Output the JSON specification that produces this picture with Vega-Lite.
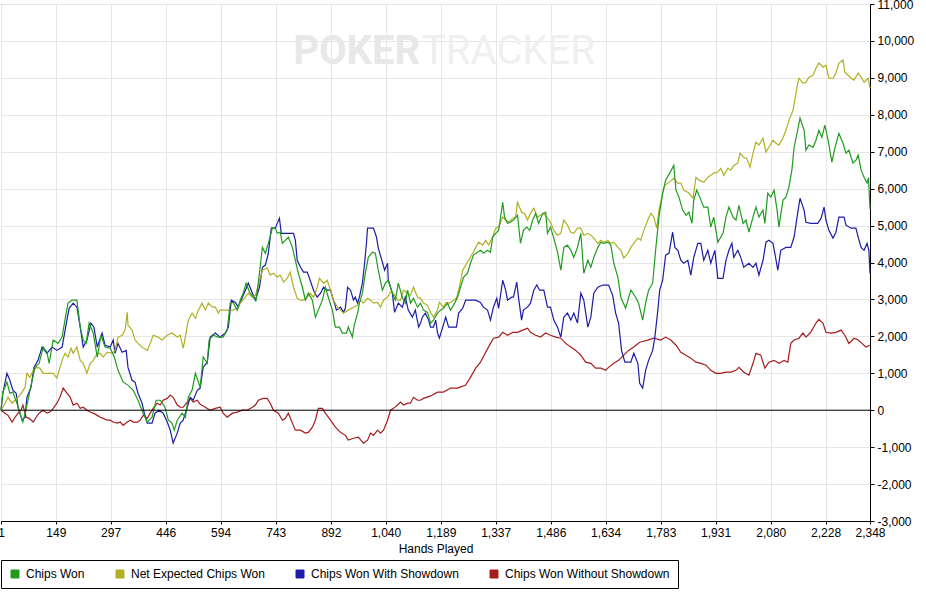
{
  "$schema": "https://vega.github.io/schema/vega-lite/v6.json",
  "width": 869,
  "height": 517,
  "autosize": {"type": "none"},
  "padding": {"left": 1, "top": 4, "right": 56, "bottom": 77},
  "background": "white",
  "config": {
    "font": "Liberation Sans",
    "view": {"stroke": "black", "strokeWidth": 1},
    "axis": {
      "labelFont": "Liberation Sans",
      "titleFont": "Liberation Sans",
      "labelFontSize": 12,
      "titleFontSize": 12,
      "titleFontWeight": "normal",
      "labelColor": "black",
      "titleColor": "black",
      "domainColor": "black",
      "tickColor": "black",
      "gridColor": "#e6e6e6",
      "gridWidth": 1,
      "labelOverlap": false
    },
    "legend": {
      "labelFont": "Liberation Sans",
      "labelFontSize": 12,
      "labelColor": "black"
    }
  },
  "layer": [
    {
      "data": {"values": [
{"series":"Chips Won Without Showdown","hand":1,"chips":0},{"series":"Chips Won Without Showdown","hand":12,"chips":-80},{"series":"Chips Won Without Showdown","hand":20,"chips":-140},{"series":"Chips Won Without Showdown","hand":31,"chips":-320},{"series":"Chips Won Without Showdown","hand":39,"chips":-190},{"series":"Chips Won Without Showdown","hand":47,"chips":-80},{"series":"Chips Won Without Showdown","hand":55,"chips":0},{"series":"Chips Won Without Showdown","hand":60,"chips":140},{"series":"Chips Won Without Showdown","hand":69,"chips":-190},{"series":"Chips Won Without Showdown","hand":77,"chips":-220},{"series":"Chips Won Without Showdown","hand":88,"chips":-320},{"series":"Chips Won Without Showdown","hand":96,"chips":-190},{"series":"Chips Won Without Showdown","hand":104,"chips":-80},{"series":"Chips Won Without Showdown","hand":115,"chips":0},{"series":"Chips Won Without Showdown","hand":125,"chips":-80},{"series":"Chips Won Without Showdown","hand":133,"chips":-50},{"series":"Chips Won Without Showdown","hand":142,"chips":50},{"series":"Chips Won Without Showdown","hand":152,"chips":190},{"series":"Chips Won Without Showdown","hand":160,"chips":350},{"series":"Chips Won Without Showdown","hand":169,"chips":600},{"series":"Chips Won Without Showdown","hand":177,"chips":490},{"series":"Chips Won Without Showdown","hand":188,"chips":350},{"series":"Chips Won Without Showdown","hand":196,"chips":140},{"series":"Chips Won Without Showdown","hand":206,"chips":190},{"series":"Chips Won Without Showdown","hand":215,"chips":50},{"series":"Chips Won Without Showdown","hand":223,"chips":80},{"series":"Chips Won Without Showdown","hand":233,"chips":0},{"series":"Chips Won Without Showdown","hand":242,"chips":-50},{"series":"Chips Won Without Showdown","hand":250,"chips":-80},{"series":"Chips Won Without Showdown","hand":261,"chips":-140},{"series":"Chips Won Without Showdown","hand":269,"chips":-190},{"series":"Chips Won Without Showdown","hand":277,"chips":-220},{"series":"Chips Won Without Showdown","hand":288,"chips":-270},{"series":"Chips Won Without Showdown","hand":296,"chips":-270},{"series":"Chips Won Without Showdown","hand":304,"chips":-320},{"series":"Chips Won Without Showdown","hand":315,"chips":-350},{"series":"Chips Won Without Showdown","hand":323,"chips":-320},{"series":"Chips Won Without Showdown","hand":331,"chips":-410},{"series":"Chips Won Without Showdown","hand":342,"chips":-320},{"series":"Chips Won Without Showdown","hand":350,"chips":-270},{"series":"Chips Won Without Showdown","hand":358,"chips":-320},{"series":"Chips Won Without Showdown","hand":369,"chips":-320},{"series":"Chips Won Without Showdown","hand":377,"chips":-270},{"series":"Chips Won Without Showdown","hand":385,"chips":-140},{"series":"Chips Won Without Showdown","hand":396,"chips":-220},{"series":"Chips Won Without Showdown","hand":404,"chips":-80},{"series":"Chips Won Without Showdown","hand":412,"chips":50},{"series":"Chips Won Without Showdown","hand":423,"chips":190},{"series":"Chips Won Without Showdown","hand":431,"chips":140},{"series":"Chips Won Without Showdown","hand":439,"chips":270},{"series":"Chips Won Without Showdown","hand":450,"chips":320},{"series":"Chips Won Without Showdown","hand":458,"chips":410},{"series":"Chips Won Without Showdown","hand":466,"chips":350},{"series":"Chips Won Without Showdown","hand":477,"chips":140},{"series":"Chips Won Without Showdown","hand":485,"chips":80},{"series":"Chips Won Without Showdown","hand":493,"chips":80},{"series":"Chips Won Without Showdown","hand":504,"chips":220},{"series":"Chips Won Without Showdown","hand":512,"chips":320},{"series":"Chips Won Without Showdown","hand":520,"chips":220},{"series":"Chips Won Without Showdown","hand":531,"chips":270},{"series":"Chips Won Without Showdown","hand":539,"chips":160},{"series":"Chips Won Without Showdown","hand":553,"chips":80},{"series":"Chips Won Without Showdown","hand":566,"chips":0},{"series":"Chips Won Without Showdown","hand":580,"chips":50},{"series":"Chips Won Without Showdown","hand":593,"chips":80},{"series":"Chips Won Without Showdown","hand":601,"chips":-80},{"series":"Chips Won Without Showdown","hand":612,"chips":-190},{"series":"Chips Won Without Showdown","hand":626,"chips":-80},{"series":"Chips Won Without Showdown","hand":639,"chips":-50},{"series":"Chips Won Without Showdown","hand":653,"chips":0},{"series":"Chips Won Without Showdown","hand":666,"chips":0},{"series":"Chips Won Without Showdown","hand":680,"chips":80},{"series":"Chips Won Without Showdown","hand":688,"chips":140},{"series":"Chips Won Without Showdown","hand":696,"chips":270},{"series":"Chips Won Without Showdown","hand":709,"chips":320},{"series":"Chips Won Without Showdown","hand":720,"chips":320},{"series":"Chips Won Without Showdown","hand":728,"chips":190},{"series":"Chips Won Without Showdown","hand":737,"chips":0},{"series":"Chips Won Without Showdown","hand":750,"chips":-80},{"series":"Chips Won Without Showdown","hand":761,"chips":-270},{"series":"Chips Won Without Showdown","hand":769,"chips":-220},{"series":"Chips Won Without Showdown","hand":777,"chips":-80},{"series":"Chips Won Without Showdown","hand":788,"chips":-350},{"series":"Chips Won Without Showdown","hand":796,"chips":-540},{"series":"Chips Won Without Showdown","hand":810,"chips":-540},{"series":"Chips Won Without Showdown","hand":823,"chips":-620},{"series":"Chips Won Without Showdown","hand":831,"chips":-600},{"series":"Chips Won Without Showdown","hand":842,"chips":-460},{"series":"Chips Won Without Showdown","hand":850,"chips":-270},{"series":"Chips Won Without Showdown","hand":858,"chips":50},{"series":"Chips Won Without Showdown","hand":869,"chips":50},{"series":"Chips Won Without Showdown","hand":877,"chips":-80},{"series":"Chips Won Without Showdown","hand":891,"chips":-270},{"series":"Chips Won Without Showdown","hand":904,"chips":-460},{"series":"Chips Won Without Showdown","hand":918,"chips":-600},{"series":"Chips Won Without Showdown","hand":931,"chips":-680},{"series":"Chips Won Without Showdown","hand":939,"chips":-810},{"series":"Chips Won Without Showdown","hand":953,"chips":-760},{"series":"Chips Won Without Showdown","hand":966,"chips":-730},{"series":"Chips Won Without Showdown","hand":980,"chips":-890},{"series":"Chips Won Without Showdown","hand":991,"chips":-810},{"series":"Chips Won Without Showdown","hand":999,"chips":-620},{"series":"Chips Won Without Showdown","hand":1007,"chips":-680},{"series":"Chips Won Without Showdown","hand":1018,"chips":-540},{"series":"Chips Won Without Showdown","hand":1026,"chips":-620},{"series":"Chips Won Without Showdown","hand":1034,"chips":-540},{"series":"Chips Won Without Showdown","hand":1045,"chips":-270},{"series":"Chips Won Without Showdown","hand":1053,"chips":0},{"series":"Chips Won Without Showdown","hand":1061,"chips":50},{"series":"Chips Won Without Showdown","hand":1072,"chips":140},{"series":"Chips Won Without Showdown","hand":1080,"chips":220},{"series":"Chips Won Without Showdown","hand":1088,"chips":140},{"series":"Chips Won Without Showdown","hand":1099,"chips":190},{"series":"Chips Won Without Showdown","hand":1107,"chips":190},{"series":"Chips Won Without Showdown","hand":1115,"chips":350},{"series":"Chips Won Without Showdown","hand":1126,"chips":270},{"series":"Chips Won Without Showdown","hand":1134,"chips":270},{"series":"Chips Won Without Showdown","hand":1142,"chips":320},{"series":"Chips Won Without Showdown","hand":1160,"chips":380},{"series":"Chips Won Without Showdown","hand":1180,"chips":490},{"series":"Chips Won Without Showdown","hand":1196,"chips":490},{"series":"Chips Won Without Showdown","hand":1215,"chips":600},{"series":"Chips Won Without Showdown","hand":1234,"chips":600},{"series":"Chips Won Without Showdown","hand":1256,"chips":680},{"series":"Chips Won Without Showdown","hand":1269,"chips":890},{"series":"Chips Won Without Showdown","hand":1283,"chips":1140},{"series":"Chips Won Without Showdown","hand":1296,"chips":1300},{"series":"Chips Won Without Showdown","hand":1310,"chips":1570},{"series":"Chips Won Without Showdown","hand":1323,"chips":1810},{"series":"Chips Won Without Showdown","hand":1331,"chips":1950},{"series":"Chips Won Without Showdown","hand":1345,"chips":1980},{"series":"Chips Won Without Showdown","hand":1356,"chips":2110},{"series":"Chips Won Without Showdown","hand":1369,"chips":2030},{"series":"Chips Won Without Showdown","hand":1383,"chips":2110},{"series":"Chips Won Without Showdown","hand":1396,"chips":2110},{"series":"Chips Won Without Showdown","hand":1410,"chips":2170},{"series":"Chips Won Without Showdown","hand":1423,"chips":2220},{"series":"Chips Won Without Showdown","hand":1431,"chips":2110},{"series":"Chips Won Without Showdown","hand":1445,"chips":2030},{"series":"Chips Won Without Showdown","hand":1458,"chips":1980},{"series":"Chips Won Without Showdown","hand":1472,"chips":2090},{"series":"Chips Won Without Showdown","hand":1485,"chips":2030},{"series":"Chips Won Without Showdown","hand":1499,"chips":1980},{"series":"Chips Won Without Showdown","hand":1513,"chips":1950},{"series":"Chips Won Without Showdown","hand":1526,"chips":1810},{"series":"Chips Won Without Showdown","hand":1540,"chips":1710},{"series":"Chips Won Without Showdown","hand":1553,"chips":1620},{"series":"Chips Won Without Showdown","hand":1567,"chips":1490},{"series":"Chips Won Without Showdown","hand":1580,"chips":1300},{"series":"Chips Won Without Showdown","hand":1594,"chips":1270},{"series":"Chips Won Without Showdown","hand":1607,"chips":1140},{"series":"Chips Won Without Showdown","hand":1621,"chips":1140},{"series":"Chips Won Without Showdown","hand":1634,"chips":1080},{"series":"Chips Won Without Showdown","hand":1642,"chips":1160},{"series":"Chips Won Without Showdown","hand":1656,"chips":1270},{"series":"Chips Won Without Showdown","hand":1669,"chips":1350},{"series":"Chips Won Without Showdown","hand":1683,"chips":1490},{"series":"Chips Won Without Showdown","hand":1696,"chips":1620},{"series":"Chips Won Without Showdown","hand":1710,"chips":1710},{"series":"Chips Won Without Showdown","hand":1726,"chips":1840},{"series":"Chips Won Without Showdown","hand":1748,"chips":1900},{"series":"Chips Won Without Showdown","hand":1764,"chips":1950},{"series":"Chips Won Without Showdown","hand":1783,"chips":1900},{"series":"Chips Won Without Showdown","hand":1796,"chips":1980},{"series":"Chips Won Without Showdown","hand":1810,"chips":1900},{"series":"Chips Won Without Showdown","hand":1824,"chips":1760},{"series":"Chips Won Without Showdown","hand":1837,"chips":1570},{"series":"Chips Won Without Showdown","hand":1851,"chips":1490},{"series":"Chips Won Without Showdown","hand":1864,"chips":1410},{"series":"Chips Won Without Showdown","hand":1878,"chips":1300},{"series":"Chips Won Without Showdown","hand":1891,"chips":1270},{"series":"Chips Won Without Showdown","hand":1905,"chips":1220},{"series":"Chips Won Without Showdown","hand":1918,"chips":1080},{"series":"Chips Won Without Showdown","hand":1932,"chips":1000},{"series":"Chips Won Without Showdown","hand":1945,"chips":1000},{"series":"Chips Won Without Showdown","hand":1959,"chips":1030},{"series":"Chips Won Without Showdown","hand":1972,"chips":1030},{"series":"Chips Won Without Showdown","hand":1986,"chips":1080},{"series":"Chips Won Without Showdown","hand":1994,"chips":1160},{"series":"Chips Won Without Showdown","hand":2007,"chips":1030},{"series":"Chips Won Without Showdown","hand":2021,"chips":950},{"series":"Chips Won Without Showdown","hand":2032,"chips":1270},{"series":"Chips Won Without Showdown","hand":2040,"chips":1540},{"series":"Chips Won Without Showdown","hand":2053,"chips":1490},{"series":"Chips Won Without Showdown","hand":2064,"chips":1140},{"series":"Chips Won Without Showdown","hand":2075,"chips":1300},{"series":"Chips Won Without Showdown","hand":2089,"chips":1350},{"series":"Chips Won Without Showdown","hand":2102,"chips":1270},{"series":"Chips Won Without Showdown","hand":2116,"chips":1350},{"series":"Chips Won Without Showdown","hand":2126,"chips":1300},{"series":"Chips Won Without Showdown","hand":2134,"chips":1810},{"series":"Chips Won Without Showdown","hand":2143,"chips":1900},{"series":"Chips Won Without Showdown","hand":2156,"chips":1950},{"series":"Chips Won Without Showdown","hand":2167,"chips":2090},{"series":"Chips Won Without Showdown","hand":2175,"chips":1980},{"series":"Chips Won Without Showdown","hand":2188,"chips":2110},{"series":"Chips Won Without Showdown","hand":2202,"chips":2360},{"series":"Chips Won Without Showdown","hand":2210,"chips":2460},{"series":"Chips Won Without Showdown","hand":2221,"chips":2360},{"series":"Chips Won Without Showdown","hand":2229,"chips":2110},{"series":"Chips Won Without Showdown","hand":2243,"chips":2090},{"series":"Chips Won Without Showdown","hand":2256,"chips":2110},{"series":"Chips Won Without Showdown","hand":2270,"chips":2170},{"series":"Chips Won Without Showdown","hand":2280,"chips":2030},{"series":"Chips Won Without Showdown","hand":2291,"chips":1810},{"series":"Chips Won Without Showdown","hand":2305,"chips":1950},{"series":"Chips Won Without Showdown","hand":2316,"chips":1900},{"series":"Chips Won Without Showdown","hand":2326,"chips":1810},{"series":"Chips Won Without Showdown","hand":2337,"chips":1710},{"series":"Chips Won Without Showdown","hand":2348,"chips":1760},
{"series":"Chips Won With Showdown","hand":1,"chips":0},{"series":"Chips Won With Showdown","hand":6,"chips":460},{"series":"Chips Won With Showdown","hand":17,"chips":1000},{"series":"Chips Won With Showdown","hand":25,"chips":810},{"series":"Chips Won With Showdown","hand":33,"chips":540},{"series":"Chips Won With Showdown","hand":42,"chips":460},{"series":"Chips Won With Showdown","hand":47,"chips":80},{"series":"Chips Won With Showdown","hand":58,"chips":-270},{"series":"Chips Won With Showdown","hand":66,"chips":-190},{"series":"Chips Won With Showdown","hand":71,"chips":350},{"series":"Chips Won With Showdown","hand":82,"chips":620},{"series":"Chips Won With Showdown","hand":90,"chips":1160},{"series":"Chips Won With Showdown","hand":101,"chips":1350},{"series":"Chips Won With Showdown","hand":112,"chips":1710},{"series":"Chips Won With Showdown","hand":125,"chips":1540},{"series":"Chips Won With Showdown","hand":139,"chips":1710},{"series":"Chips Won With Showdown","hand":152,"chips":1620},{"series":"Chips Won With Showdown","hand":166,"chips":1710},{"series":"Chips Won With Showdown","hand":179,"chips":2440},{"series":"Chips Won With Showdown","hand":185,"chips":2760},{"series":"Chips Won With Showdown","hand":196,"chips":2900},{"series":"Chips Won With Showdown","hand":206,"chips":2790},{"series":"Chips Won With Showdown","hand":215,"chips":2250},{"series":"Chips Won With Showdown","hand":223,"chips":1710},{"series":"Chips Won With Showdown","hand":233,"chips":1900},{"series":"Chips Won With Showdown","hand":244,"chips":2360},{"series":"Chips Won With Showdown","hand":252,"chips":2250},{"series":"Chips Won With Showdown","hand":261,"chips":1710},{"series":"Chips Won With Showdown","hand":274,"chips":2090},{"series":"Chips Won With Showdown","hand":282,"chips":1760},{"series":"Chips Won With Showdown","hand":296,"chips":1710},{"series":"Chips Won With Showdown","hand":304,"chips":1900},{"series":"Chips Won With Showdown","hand":309,"chips":1540},{"series":"Chips Won With Showdown","hand":317,"chips":1810},{"series":"Chips Won With Showdown","hand":328,"chips":1570},{"series":"Chips Won With Showdown","hand":339,"chips":1620},{"series":"Chips Won With Showdown","hand":344,"chips":1160},{"series":"Chips Won With Showdown","hand":355,"chips":810},{"series":"Chips Won With Showdown","hand":363,"chips":760},{"series":"Chips Won With Showdown","hand":371,"chips":460},{"series":"Chips Won With Showdown","hand":382,"chips":190},{"series":"Chips Won With Showdown","hand":388,"chips":-80},{"series":"Chips Won With Showdown","hand":396,"chips":-350},{"series":"Chips Won With Showdown","hand":409,"chips":-350},{"series":"Chips Won With Showdown","hand":417,"chips":-80},{"series":"Chips Won With Showdown","hand":428,"chips":0},{"series":"Chips Won With Showdown","hand":439,"chips":-80},{"series":"Chips Won With Showdown","hand":450,"chips":-320},{"series":"Chips Won With Showdown","hand":458,"chips":-540},{"series":"Chips Won With Showdown","hand":466,"chips":-890},{"series":"Chips Won With Showdown","hand":477,"chips":-620},{"series":"Chips Won With Showdown","hand":485,"chips":-350},{"series":"Chips Won With Showdown","hand":493,"chips":-270},{"series":"Chips Won With Showdown","hand":504,"chips":80},{"series":"Chips Won With Showdown","hand":512,"chips":350},{"series":"Chips Won With Showdown","hand":520,"chips":270},{"series":"Chips Won With Showdown","hand":531,"chips":540},{"series":"Chips Won With Showdown","hand":539,"chips":600},{"series":"Chips Won With Showdown","hand":547,"chips":1160},{"series":"Chips Won With Showdown","hand":558,"chips":1300},{"series":"Chips Won With Showdown","hand":566,"chips":1980},{"series":"Chips Won With Showdown","hand":580,"chips":2090},{"series":"Chips Won With Showdown","hand":593,"chips":1980},{"series":"Chips Won With Showdown","hand":607,"chips":2090},{"series":"Chips Won With Showdown","hand":615,"chips":2250},{"series":"Chips Won With Showdown","hand":623,"chips":2980},{"series":"Chips Won With Showdown","hand":634,"chips":2920},{"series":"Chips Won With Showdown","hand":642,"chips":2790},{"series":"Chips Won With Showdown","hand":653,"chips":3060},{"series":"Chips Won With Showdown","hand":661,"chips":3250},{"series":"Chips Won With Showdown","hand":669,"chips":3440},{"series":"Chips Won With Showdown","hand":680,"chips":3170},{"series":"Chips Won With Showdown","hand":688,"chips":2980},{"series":"Chips Won With Showdown","hand":699,"chips":3330},{"series":"Chips Won With Showdown","hand":707,"chips":3870},{"series":"Chips Won With Showdown","hand":715,"chips":3930},{"series":"Chips Won With Showdown","hand":723,"chips":4250},{"series":"Chips Won With Showdown","hand":731,"chips":4930},{"series":"Chips Won With Showdown","hand":742,"chips":4930},{"series":"Chips Won With Showdown","hand":747,"chips":5060},{"series":"Chips Won With Showdown","hand":753,"chips":5200},{"series":"Chips Won With Showdown","hand":758,"chips":4790},{"series":"Chips Won With Showdown","hand":769,"chips":4790},{"series":"Chips Won With Showdown","hand":782,"chips":4790},{"series":"Chips Won With Showdown","hand":791,"chips":4790},{"series":"Chips Won With Showdown","hand":796,"chips":4600},{"series":"Chips Won With Showdown","hand":801,"chips":4060},{"series":"Chips Won With Showdown","hand":810,"chips":3870},{"series":"Chips Won With Showdown","hand":818,"chips":3740},{"series":"Chips Won With Showdown","hand":828,"chips":3740},{"series":"Chips Won With Showdown","hand":836,"chips":3520},{"series":"Chips Won With Showdown","hand":845,"chips":3250},{"series":"Chips Won With Showdown","hand":855,"chips":3060},{"series":"Chips Won With Showdown","hand":864,"chips":3170},{"series":"Chips Won With Showdown","hand":872,"chips":3330},{"series":"Chips Won With Showdown","hand":882,"chips":3250},{"series":"Chips Won With Showdown","hand":891,"chips":3250},{"series":"Chips Won With Showdown","hand":899,"chips":2980},{"series":"Chips Won With Showdown","hand":907,"chips":2710},{"series":"Chips Won With Showdown","hand":918,"chips":2790},{"series":"Chips Won With Showdown","hand":926,"chips":2650},{"series":"Chips Won With Showdown","hand":931,"chips":2760},{"series":"Chips Won With Showdown","hand":937,"chips":3330},{"series":"Chips Won With Showdown","hand":945,"chips":3250},{"series":"Chips Won With Showdown","hand":953,"chips":2980},{"series":"Chips Won With Showdown","hand":958,"chips":3060},{"series":"Chips Won With Showdown","hand":964,"chips":2900},{"series":"Chips Won With Showdown","hand":969,"chips":3060},{"series":"Chips Won With Showdown","hand":977,"chips":3440},{"series":"Chips Won With Showdown","hand":983,"chips":3980},{"series":"Chips Won With Showdown","hand":988,"chips":4520},{"series":"Chips Won With Showdown","hand":991,"chips":4930},{"series":"Chips Won With Showdown","hand":1007,"chips":4930},{"series":"Chips Won With Showdown","hand":1015,"chips":4690},{"series":"Chips Won With Showdown","hand":1020,"chips":4390},{"series":"Chips Won With Showdown","hand":1031,"chips":4010},{"series":"Chips Won With Showdown","hand":1037,"chips":3790},{"series":"Chips Won With Showdown","hand":1045,"chips":3980},{"series":"Chips Won With Showdown","hand":1047,"chips":3520},{"series":"Chips Won With Showdown","hand":1058,"chips":3170},{"series":"Chips Won With Showdown","hand":1064,"chips":2650},{"series":"Chips Won With Showdown","hand":1074,"chips":2900},{"series":"Chips Won With Showdown","hand":1085,"chips":2790},{"series":"Chips Won With Showdown","hand":1093,"chips":3060},{"series":"Chips Won With Showdown","hand":1101,"chips":2710},{"series":"Chips Won With Showdown","hand":1112,"chips":2520},{"series":"Chips Won With Showdown","hand":1120,"chips":2710},{"series":"Chips Won With Showdown","hand":1129,"chips":2250},{"series":"Chips Won With Showdown","hand":1134,"chips":2360},{"series":"Chips Won With Showdown","hand":1139,"chips":2520},{"series":"Chips Won With Showdown","hand":1147,"chips":2630},{"series":"Chips Won With Showdown","hand":1156,"chips":2440},{"series":"Chips Won With Showdown","hand":1161,"chips":2250},{"series":"Chips Won With Showdown","hand":1169,"chips":2250},{"series":"Chips Won With Showdown","hand":1175,"chips":2440},{"series":"Chips Won With Showdown","hand":1180,"chips":2090},{"series":"Chips Won With Showdown","hand":1185,"chips":1950},{"series":"Chips Won With Showdown","hand":1194,"chips":2250},{"series":"Chips Won With Showdown","hand":1202,"chips":2520},{"series":"Chips Won With Showdown","hand":1210,"chips":2250},{"series":"Chips Won With Showdown","hand":1221,"chips":2250},{"series":"Chips Won With Showdown","hand":1231,"chips":2250},{"series":"Chips Won With Showdown","hand":1237,"chips":2630},{"series":"Chips Won With Showdown","hand":1248,"chips":2760},{"series":"Chips Won With Showdown","hand":1256,"chips":2980},{"series":"Chips Won With Showdown","hand":1264,"chips":2980},{"series":"Chips Won With Showdown","hand":1275,"chips":2980},{"series":"Chips Won With Showdown","hand":1283,"chips":2980},{"series":"Chips Won With Showdown","hand":1296,"chips":2920},{"series":"Chips Won With Showdown","hand":1304,"chips":2790},{"series":"Chips Won With Showdown","hand":1315,"chips":2710},{"series":"Chips Won With Showdown","hand":1323,"chips":2440},{"series":"Chips Won With Showdown","hand":1331,"chips":2790},{"series":"Chips Won With Showdown","hand":1340,"chips":3030},{"series":"Chips Won With Showdown","hand":1345,"chips":2760},{"series":"Chips Won With Showdown","hand":1356,"chips":3520},{"series":"Chips Won With Showdown","hand":1364,"chips":3250},{"series":"Chips Won With Showdown","hand":1369,"chips":2980},{"series":"Chips Won With Showdown","hand":1380,"chips":3060},{"series":"Chips Won With Showdown","hand":1385,"chips":3060},{"series":"Chips Won With Showdown","hand":1394,"chips":3470},{"series":"Chips Won With Showdown","hand":1399,"chips":3030},{"series":"Chips Won With Showdown","hand":1407,"chips":2440},{"series":"Chips Won With Showdown","hand":1412,"chips":2710},{"series":"Chips Won With Showdown","hand":1423,"chips":2790},{"series":"Chips Won With Showdown","hand":1431,"chips":2900},{"series":"Chips Won With Showdown","hand":1440,"chips":3250},{"series":"Chips Won With Showdown","hand":1448,"chips":3390},{"series":"Chips Won With Showdown","hand":1456,"chips":3250},{"series":"Chips Won With Showdown","hand":1467,"chips":3250},{"series":"Chips Won With Showdown","hand":1477,"chips":2790},{"series":"Chips Won With Showdown","hand":1485,"chips":2790},{"series":"Chips Won With Showdown","hand":1494,"chips":2440},{"series":"Chips Won With Showdown","hand":1504,"chips":2250},{"series":"Chips Won With Showdown","hand":1513,"chips":1980},{"series":"Chips Won With Showdown","hand":1521,"chips":2520},{"series":"Chips Won With Showdown","hand":1531,"chips":2630},{"series":"Chips Won With Showdown","hand":1540,"chips":2440},{"series":"Chips Won With Showdown","hand":1548,"chips":2630},{"series":"Chips Won With Showdown","hand":1558,"chips":2360},{"series":"Chips Won With Showdown","hand":1567,"chips":3170},{"series":"Chips Won With Showdown","hand":1575,"chips":2980},{"series":"Chips Won With Showdown","hand":1586,"chips":2250},{"series":"Chips Won With Showdown","hand":1594,"chips":2520},{"series":"Chips Won With Showdown","hand":1602,"chips":3170},{"series":"Chips Won With Showdown","hand":1613,"chips":3330},{"series":"Chips Won With Showdown","hand":1626,"chips":3390},{"series":"Chips Won With Showdown","hand":1642,"chips":3390},{"series":"Chips Won With Showdown","hand":1653,"chips":3110},{"series":"Chips Won With Showdown","hand":1661,"chips":2630},{"series":"Chips Won With Showdown","hand":1669,"chips":2360},{"series":"Chips Won With Showdown","hand":1677,"chips":1620},{"series":"Chips Won With Showdown","hand":1686,"chips":1300},{"series":"Chips Won With Showdown","hand":1702,"chips":1300},{"series":"Chips Won With Showdown","hand":1710,"chips":1540},{"series":"Chips Won With Showdown","hand":1721,"chips":1270},{"series":"Chips Won With Showdown","hand":1726,"chips":730},{"series":"Chips Won With Showdown","hand":1734,"chips":600},{"series":"Chips Won With Showdown","hand":1742,"chips":1080},{"series":"Chips Won With Showdown","hand":1750,"chips":1350},{"series":"Chips Won With Showdown","hand":1761,"chips":1620},{"series":"Chips Won With Showdown","hand":1767,"chips":1980},{"series":"Chips Won With Showdown","hand":1775,"chips":2710},{"series":"Chips Won With Showdown","hand":1780,"chips":3250},{"series":"Chips Won With Showdown","hand":1788,"chips":3520},{"series":"Chips Won With Showdown","hand":1796,"chips":4200},{"series":"Chips Won With Showdown","hand":1805,"chips":4250},{"series":"Chips Won With Showdown","hand":1815,"chips":4820},{"series":"Chips Won With Showdown","hand":1821,"chips":4410},{"series":"Chips Won With Showdown","hand":1829,"chips":4330},{"series":"Chips Won With Showdown","hand":1837,"chips":4060},{"series":"Chips Won With Showdown","hand":1845,"chips":3980},{"series":"Chips Won With Showdown","hand":1856,"chips":4060},{"series":"Chips Won With Showdown","hand":1864,"chips":3660},{"series":"Chips Won With Showdown","hand":1872,"chips":4140},{"series":"Chips Won With Showdown","hand":1883,"chips":4520},{"series":"Chips Won With Showdown","hand":1891,"chips":4520},{"series":"Chips Won With Showdown","hand":1899,"chips":4060},{"series":"Chips Won With Showdown","hand":1910,"chips":4330},{"series":"Chips Won With Showdown","hand":1918,"chips":3980},{"series":"Chips Won With Showdown","hand":1929,"chips":4330},{"series":"Chips Won With Showdown","hand":1937,"chips":3570},{"series":"Chips Won With Showdown","hand":1951,"chips":3570},{"series":"Chips Won With Showdown","hand":1959,"chips":4060},{"series":"Chips Won With Showdown","hand":1967,"chips":4330},{"series":"Chips Won With Showdown","hand":1975,"chips":4520},{"series":"Chips Won With Showdown","hand":1980,"chips":4140},{"series":"Chips Won With Showdown","hand":1991,"chips":4330},{"series":"Chips Won With Showdown","hand":1999,"chips":4140},{"series":"Chips Won With Showdown","hand":2007,"chips":3870},{"series":"Chips Won With Showdown","hand":2021,"chips":3980},{"series":"Chips Won With Showdown","hand":2032,"chips":3870},{"series":"Chips Won With Showdown","hand":2040,"chips":3980},{"series":"Chips Won With Showdown","hand":2048,"chips":3660},{"series":"Chips Won With Showdown","hand":2059,"chips":4060},{"series":"Chips Won With Showdown","hand":2067,"chips":4550},{"series":"Chips Won With Showdown","hand":2075,"chips":4600},{"series":"Chips Won With Showdown","hand":2086,"chips":4520},{"series":"Chips Won With Showdown","hand":2091,"chips":4250},{"series":"Chips Won With Showdown","hand":2099,"chips":3790},{"series":"Chips Won With Showdown","hand":2107,"chips":4330},{"series":"Chips Won With Showdown","hand":2121,"chips":4410},{"series":"Chips Won With Showdown","hand":2134,"chips":4410},{"series":"Chips Won With Showdown","hand":2143,"chips":4690},{"series":"Chips Won With Showdown","hand":2151,"chips":5230},{"series":"Chips Won With Showdown","hand":2159,"chips":5740},{"series":"Chips Won With Showdown","hand":2170,"chips":5420},{"series":"Chips Won With Showdown","hand":2175,"chips":5090},{"series":"Chips Won With Showdown","hand":2188,"chips":5060},{"series":"Chips Won With Showdown","hand":2207,"chips":5060},{"series":"Chips Won With Showdown","hand":2216,"chips":5200},{"series":"Chips Won With Showdown","hand":2224,"chips":5500},{"series":"Chips Won With Showdown","hand":2229,"chips":5150},{"series":"Chips Won With Showdown","hand":2237,"chips":4870},{"series":"Chips Won With Showdown","hand":2248,"chips":4660},{"series":"Chips Won With Showdown","hand":2256,"chips":4820},{"series":"Chips Won With Showdown","hand":2264,"chips":5230},{"series":"Chips Won With Showdown","hand":2278,"chips":5230},{"series":"Chips Won With Showdown","hand":2283,"chips":5010},{"series":"Chips Won With Showdown","hand":2297,"chips":4930},{"series":"Chips Won With Showdown","hand":2310,"chips":4930},{"series":"Chips Won With Showdown","hand":2316,"chips":4690},{"series":"Chips Won With Showdown","hand":2324,"chips":4410},{"series":"Chips Won With Showdown","hand":2332,"chips":4330},{"series":"Chips Won With Showdown","hand":2340,"chips":4520},{"series":"Chips Won With Showdown","hand":2345,"chips":4330},{"series":"Chips Won With Showdown","hand":2348,"chips":3710},
{"series":"Net Expected Chips Won","hand":1,"chips":0},{"series":"Net Expected Chips Won","hand":12,"chips":190},{"series":"Net Expected Chips Won","hand":20,"chips":350},{"series":"Net Expected Chips Won","hand":31,"chips":190},{"series":"Net Expected Chips Won","hand":39,"chips":270},{"series":"Net Expected Chips Won","hand":47,"chips":350},{"series":"Net Expected Chips Won","hand":58,"chips":490},{"series":"Net Expected Chips Won","hand":66,"chips":620},{"series":"Net Expected Chips Won","hand":71,"chips":1000},{"series":"Net Expected Chips Won","hand":79,"chips":890},{"series":"Net Expected Chips Won","hand":88,"chips":1080},{"series":"Net Expected Chips Won","hand":98,"chips":1160},{"series":"Net Expected Chips Won","hand":106,"chips":1140},{"series":"Net Expected Chips Won","hand":115,"chips":1000},{"series":"Net Expected Chips Won","hand":128,"chips":1000},{"series":"Net Expected Chips Won","hand":142,"chips":1000},{"series":"Net Expected Chips Won","hand":152,"chips":870},{"series":"Net Expected Chips Won","hand":158,"chips":1080},{"series":"Net Expected Chips Won","hand":166,"chips":1350},{"series":"Net Expected Chips Won","hand":174,"chips":1540},{"series":"Net Expected Chips Won","hand":182,"chips":1440},{"series":"Net Expected Chips Won","hand":190,"chips":1680},{"series":"Net Expected Chips Won","hand":196,"chips":1540},{"series":"Net Expected Chips Won","hand":206,"chips":1710},{"series":"Net Expected Chips Won","hand":215,"chips":1350},{"series":"Net Expected Chips Won","hand":223,"chips":1270},{"series":"Net Expected Chips Won","hand":233,"chips":1000},{"series":"Net Expected Chips Won","hand":242,"chips":1270},{"series":"Net Expected Chips Won","hand":250,"chips":1350},{"series":"Net Expected Chips Won","hand":261,"chips":1540},{"series":"Net Expected Chips Won","hand":269,"chips":1540},{"series":"Net Expected Chips Won","hand":277,"chips":1440},{"series":"Net Expected Chips Won","hand":288,"chips":1570},{"series":"Net Expected Chips Won","hand":301,"chips":1540},{"series":"Net Expected Chips Won","hand":309,"chips":1620},{"series":"Net Expected Chips Won","hand":317,"chips":1980},{"series":"Net Expected Chips Won","hand":328,"chips":2030},{"series":"Net Expected Chips Won","hand":336,"chips":2170},{"series":"Net Expected Chips Won","hand":342,"chips":2650},{"series":"Net Expected Chips Won","hand":344,"chips":2300},{"series":"Net Expected Chips Won","hand":355,"chips":2170},{"series":"Net Expected Chips Won","hand":363,"chips":1900},{"series":"Net Expected Chips Won","hand":371,"chips":1810},{"series":"Net Expected Chips Won","hand":382,"chips":1710},{"series":"Net Expected Chips Won","hand":396,"chips":1620},{"series":"Net Expected Chips Won","hand":404,"chips":1810},{"series":"Net Expected Chips Won","hand":412,"chips":2030},{"series":"Net Expected Chips Won","hand":425,"chips":1980},{"series":"Net Expected Chips Won","hand":436,"chips":1900},{"series":"Net Expected Chips Won","hand":450,"chips":2030},{"series":"Net Expected Chips Won","hand":463,"chips":2090},{"series":"Net Expected Chips Won","hand":477,"chips":1980},{"series":"Net Expected Chips Won","hand":485,"chips":2030},{"series":"Net Expected Chips Won","hand":493,"chips":1680},{"series":"Net Expected Chips Won","hand":499,"chips":1980},{"series":"Net Expected Chips Won","hand":507,"chips":2440},{"series":"Net Expected Chips Won","hand":517,"chips":2630},{"series":"Net Expected Chips Won","hand":526,"chips":2490},{"series":"Net Expected Chips Won","hand":534,"chips":2710},{"series":"Net Expected Chips Won","hand":544,"chips":2900},{"series":"Net Expected Chips Won","hand":553,"chips":2710},{"series":"Net Expected Chips Won","hand":561,"chips":2900},{"series":"Net Expected Chips Won","hand":572,"chips":2790},{"series":"Net Expected Chips Won","hand":580,"chips":2790},{"series":"Net Expected Chips Won","hand":588,"chips":2630},{"series":"Net Expected Chips Won","hand":593,"chips":2710},{"series":"Net Expected Chips Won","hand":601,"chips":2710},{"series":"Net Expected Chips Won","hand":612,"chips":2710},{"series":"Net Expected Chips Won","hand":626,"chips":2710},{"series":"Net Expected Chips Won","hand":639,"chips":2760},{"series":"Net Expected Chips Won","hand":647,"chips":2900},{"series":"Net Expected Chips Won","hand":661,"chips":3060},{"series":"Net Expected Chips Won","hand":669,"chips":3170},{"series":"Net Expected Chips Won","hand":680,"chips":3060},{"series":"Net Expected Chips Won","hand":688,"chips":3110},{"series":"Net Expected Chips Won","hand":696,"chips":3390},{"series":"Net Expected Chips Won","hand":707,"chips":3790},{"series":"Net Expected Chips Won","hand":720,"chips":3850},{"series":"Net Expected Chips Won","hand":728,"chips":3660},{"series":"Net Expected Chips Won","hand":737,"chips":3710},{"series":"Net Expected Chips Won","hand":747,"chips":3600},{"series":"Net Expected Chips Won","hand":755,"chips":3660},{"series":"Net Expected Chips Won","hand":764,"chips":3470},{"series":"Net Expected Chips Won","hand":774,"chips":3570},{"series":"Net Expected Chips Won","hand":782,"chips":3740},{"series":"Net Expected Chips Won","hand":791,"chips":3330},{"series":"Net Expected Chips Won","hand":801,"chips":3030},{"series":"Net Expected Chips Won","hand":810,"chips":2980},{"series":"Net Expected Chips Won","hand":818,"chips":2980},{"series":"Net Expected Chips Won","hand":828,"chips":3060},{"series":"Net Expected Chips Won","hand":836,"chips":3170},{"series":"Net Expected Chips Won","hand":845,"chips":3060},{"series":"Net Expected Chips Won","hand":855,"chips":3330},{"series":"Net Expected Chips Won","hand":861,"chips":3570},{"series":"Net Expected Chips Won","hand":872,"chips":3440},{"series":"Net Expected Chips Won","hand":882,"chips":3520},{"series":"Net Expected Chips Won","hand":891,"chips":3250},{"series":"Net Expected Chips Won","hand":899,"chips":2980},{"series":"Net Expected Chips Won","hand":910,"chips":2790},{"series":"Net Expected Chips Won","hand":918,"chips":2710},{"series":"Net Expected Chips Won","hand":926,"chips":2630},{"series":"Net Expected Chips Won","hand":939,"chips":2710},{"series":"Net Expected Chips Won","hand":953,"chips":2790},{"series":"Net Expected Chips Won","hand":964,"chips":2840},{"series":"Net Expected Chips Won","hand":972,"chips":2980},{"series":"Net Expected Chips Won","hand":980,"chips":2900},{"series":"Net Expected Chips Won","hand":991,"chips":3030},{"series":"Net Expected Chips Won","hand":999,"chips":2980},{"series":"Net Expected Chips Won","hand":1007,"chips":2900},{"series":"Net Expected Chips Won","hand":1018,"chips":2920},{"series":"Net Expected Chips Won","hand":1026,"chips":2790},{"series":"Net Expected Chips Won","hand":1034,"chips":2980},{"series":"Net Expected Chips Won","hand":1045,"chips":3060},{"series":"Net Expected Chips Won","hand":1053,"chips":3200},{"series":"Net Expected Chips Won","hand":1061,"chips":3170},{"series":"Net Expected Chips Won","hand":1072,"chips":2980},{"series":"Net Expected Chips Won","hand":1080,"chips":2980},{"series":"Net Expected Chips Won","hand":1088,"chips":3250},{"series":"Net Expected Chips Won","hand":1099,"chips":3170},{"series":"Net Expected Chips Won","hand":1107,"chips":3110},{"series":"Net Expected Chips Won","hand":1115,"chips":3330},{"series":"Net Expected Chips Won","hand":1126,"chips":3060},{"series":"Net Expected Chips Won","hand":1134,"chips":3030},{"series":"Net Expected Chips Won","hand":1142,"chips":2900},{"series":"Net Expected Chips Won","hand":1153,"chips":2840},{"series":"Net Expected Chips Won","hand":1161,"chips":2650},{"series":"Net Expected Chips Won","hand":1169,"chips":2520},{"series":"Net Expected Chips Won","hand":1180,"chips":2710},{"series":"Net Expected Chips Won","hand":1185,"chips":2920},{"series":"Net Expected Chips Won","hand":1196,"chips":2790},{"series":"Net Expected Chips Won","hand":1204,"chips":2920},{"series":"Net Expected Chips Won","hand":1212,"chips":2900},{"series":"Net Expected Chips Won","hand":1223,"chips":2980},{"series":"Net Expected Chips Won","hand":1231,"chips":3030},{"series":"Net Expected Chips Won","hand":1239,"chips":3330},{"series":"Net Expected Chips Won","hand":1248,"chips":3790},{"series":"Net Expected Chips Won","hand":1256,"chips":3930},{"series":"Net Expected Chips Won","hand":1264,"chips":4060},{"series":"Net Expected Chips Won","hand":1275,"chips":4250},{"series":"Net Expected Chips Won","hand":1283,"chips":4410},{"series":"Net Expected Chips Won","hand":1291,"chips":4550},{"series":"Net Expected Chips Won","hand":1302,"chips":4470},{"series":"Net Expected Chips Won","hand":1310,"chips":4600},{"series":"Net Expected Chips Won","hand":1318,"chips":4470},{"series":"Net Expected Chips Won","hand":1329,"chips":4690},{"series":"Net Expected Chips Won","hand":1337,"chips":4930},{"series":"Net Expected Chips Won","hand":1345,"chips":4960},{"series":"Net Expected Chips Won","hand":1356,"chips":5230},{"series":"Net Expected Chips Won","hand":1364,"chips":5150},{"series":"Net Expected Chips Won","hand":1372,"chips":5090},{"series":"Net Expected Chips Won","hand":1383,"chips":5200},{"series":"Net Expected Chips Won","hand":1391,"chips":5230},{"series":"Net Expected Chips Won","hand":1396,"chips":5630},{"series":"Net Expected Chips Won","hand":1407,"chips":5360},{"series":"Net Expected Chips Won","hand":1415,"chips":5330},{"series":"Net Expected Chips Won","hand":1423,"chips":5150},{"series":"Net Expected Chips Won","hand":1431,"chips":5330},{"series":"Net Expected Chips Won","hand":1440,"chips":5470},{"series":"Net Expected Chips Won","hand":1450,"chips":5230},{"series":"Net Expected Chips Won","hand":1458,"chips":5280},{"series":"Net Expected Chips Won","hand":1467,"chips":5330},{"series":"Net Expected Chips Won","hand":1477,"chips":5200},{"series":"Net Expected Chips Won","hand":1485,"chips":5090},{"series":"Net Expected Chips Won","hand":1494,"chips":4870},{"series":"Net Expected Chips Won","hand":1504,"chips":4740},{"series":"Net Expected Chips Won","hand":1513,"chips":4790},{"series":"Net Expected Chips Won","hand":1521,"chips":5150},{"series":"Net Expected Chips Won","hand":1531,"chips":5010},{"series":"Net Expected Chips Won","hand":1540,"chips":4820},{"series":"Net Expected Chips Won","hand":1548,"chips":4790},{"series":"Net Expected Chips Won","hand":1558,"chips":4930},{"series":"Net Expected Chips Won","hand":1567,"chips":4930},{"series":"Net Expected Chips Won","hand":1575,"chips":4740},{"series":"Net Expected Chips Won","hand":1586,"chips":4790},{"series":"Net Expected Chips Won","hand":1594,"chips":4740},{"series":"Net Expected Chips Won","hand":1602,"chips":4660},{"series":"Net Expected Chips Won","hand":1613,"chips":4520},{"series":"Net Expected Chips Won","hand":1621,"chips":4600},{"series":"Net Expected Chips Won","hand":1629,"chips":4550},{"series":"Net Expected Chips Won","hand":1640,"chips":4600},{"series":"Net Expected Chips Won","hand":1648,"chips":4520},{"series":"Net Expected Chips Won","hand":1656,"chips":4550},{"series":"Net Expected Chips Won","hand":1667,"chips":4410},{"series":"Net Expected Chips Won","hand":1675,"chips":4330},{"series":"Net Expected Chips Won","hand":1683,"chips":4120},{"series":"Net Expected Chips Won","hand":1694,"chips":4250},{"series":"Net Expected Chips Won","hand":1702,"chips":4410},{"series":"Net Expected Chips Won","hand":1710,"chips":4520},{"series":"Net Expected Chips Won","hand":1721,"chips":4660},{"series":"Net Expected Chips Won","hand":1729,"chips":4600},{"series":"Net Expected Chips Won","hand":1737,"chips":4870},{"series":"Net Expected Chips Won","hand":1748,"chips":5150},{"series":"Net Expected Chips Won","hand":1756,"chips":5330},{"series":"Net Expected Chips Won","hand":1764,"chips":5230},{"series":"Net Expected Chips Won","hand":1772,"chips":4930},{"series":"Net Expected Chips Won","hand":1778,"chips":5420},{"series":"Net Expected Chips Won","hand":1788,"chips":5880},{"series":"Net Expected Chips Won","hand":1794,"chips":6090},{"series":"Net Expected Chips Won","hand":1805,"chips":6170},{"series":"Net Expected Chips Won","hand":1818,"chips":6280},{"series":"Net Expected Chips Won","hand":1829,"chips":6150},{"series":"Net Expected Chips Won","hand":1837,"chips":6150},{"series":"Net Expected Chips Won","hand":1845,"chips":5960},{"series":"Net Expected Chips Won","hand":1859,"chips":5880},{"series":"Net Expected Chips Won","hand":1870,"chips":5740},{"series":"Net Expected Chips Won","hand":1878,"chips":6310},{"series":"Net Expected Chips Won","hand":1886,"chips":6230},{"series":"Net Expected Chips Won","hand":1899,"chips":6170},{"series":"Net Expected Chips Won","hand":1910,"chips":6310},{"series":"Net Expected Chips Won","hand":1918,"chips":6360},{"series":"Net Expected Chips Won","hand":1926,"chips":6420},{"series":"Net Expected Chips Won","hand":1937,"chips":6450},{"series":"Net Expected Chips Won","hand":1945,"chips":6550},{"series":"Net Expected Chips Won","hand":1953,"chips":6360},{"series":"Net Expected Chips Won","hand":1964,"chips":6550},{"series":"Net Expected Chips Won","hand":1972,"chips":6500},{"series":"Net Expected Chips Won","hand":1980,"chips":6630},{"series":"Net Expected Chips Won","hand":1991,"chips":6690},{"series":"Net Expected Chips Won","hand":1997,"chips":6960},{"series":"Net Expected Chips Won","hand":2007,"chips":6850},{"series":"Net Expected Chips Won","hand":2015,"chips":6820},{"series":"Net Expected Chips Won","hand":2024,"chips":6580},{"series":"Net Expected Chips Won","hand":2032,"chips":6960},{"series":"Net Expected Chips Won","hand":2040,"chips":7260},{"series":"Net Expected Chips Won","hand":2048,"chips":7180},{"series":"Net Expected Chips Won","hand":2059,"chips":7370},{"series":"Net Expected Chips Won","hand":2067,"chips":6990},{"series":"Net Expected Chips Won","hand":2075,"chips":7120},{"series":"Net Expected Chips Won","hand":2086,"chips":7310},{"series":"Net Expected Chips Won","hand":2094,"chips":7230},{"series":"Net Expected Chips Won","hand":2102,"chips":7180},{"series":"Net Expected Chips Won","hand":2113,"chips":7370},{"series":"Net Expected Chips Won","hand":2121,"chips":7580},{"series":"Net Expected Chips Won","hand":2129,"chips":7850},{"series":"Net Expected Chips Won","hand":2140,"chips":8120},{"series":"Net Expected Chips Won","hand":2151,"chips":8750},{"series":"Net Expected Chips Won","hand":2156,"chips":8990},{"series":"Net Expected Chips Won","hand":2167,"chips":8860},{"series":"Net Expected Chips Won","hand":2175,"chips":8880},{"series":"Net Expected Chips Won","hand":2183,"chips":9020},{"series":"Net Expected Chips Won","hand":2194,"chips":9070},{"series":"Net Expected Chips Won","hand":2202,"chips":9260},{"series":"Net Expected Chips Won","hand":2210,"chips":9400},{"series":"Net Expected Chips Won","hand":2221,"chips":9290},{"series":"Net Expected Chips Won","hand":2229,"chips":9340},{"series":"Net Expected Chips Won","hand":2237,"chips":8990},{"series":"Net Expected Chips Won","hand":2248,"chips":8990},{"series":"Net Expected Chips Won","hand":2256,"chips":9130},{"series":"Net Expected Chips Won","hand":2264,"chips":9400},{"series":"Net Expected Chips Won","hand":2275,"chips":9480},{"series":"Net Expected Chips Won","hand":2280,"chips":9150},{"series":"Net Expected Chips Won","hand":2289,"chips":9070},{"series":"Net Expected Chips Won","hand":2297,"chips":8990},{"series":"Net Expected Chips Won","hand":2305,"chips":8940},{"series":"Net Expected Chips Won","hand":2316,"chips":9130},{"series":"Net Expected Chips Won","hand":2324,"chips":9020},{"series":"Net Expected Chips Won","hand":2332,"chips":8880},{"series":"Net Expected Chips Won","hand":2343,"chips":8990},{"series":"Net Expected Chips Won","hand":2348,"chips":8720},
{"series":"Chips Won","hand":1,"chips":0},{"series":"Chips Won","hand":6,"chips":490},{"series":"Chips Won","hand":17,"chips":760},{"series":"Chips Won","hand":25,"chips":460},{"series":"Chips Won","hand":33,"chips":490},{"series":"Chips Won","hand":44,"chips":190},{"series":"Chips Won","hand":52,"chips":-80},{"series":"Chips Won","hand":60,"chips":-320},{"series":"Chips Won","hand":66,"chips":-80},{"series":"Chips Won","hand":74,"chips":270},{"series":"Chips Won","hand":85,"chips":810},{"series":"Chips Won","hand":93,"chips":1160},{"series":"Chips Won","hand":104,"chips":1270},{"series":"Chips Won","hand":115,"chips":1710},{"series":"Chips Won","hand":125,"chips":1570},{"series":"Chips Won","hand":131,"chips":1270},{"series":"Chips Won","hand":142,"chips":1900},{"series":"Chips Won","hand":155,"chips":1810},{"series":"Chips Won","hand":166,"chips":1980},{"series":"Chips Won","hand":177,"chips":2630},{"series":"Chips Won","hand":182,"chips":2900},{"series":"Chips Won","hand":193,"chips":2980},{"series":"Chips Won","hand":206,"chips":2980},{"series":"Chips Won","hand":215,"chips":2250},{"series":"Chips Won","hand":223,"chips":1900},{"series":"Chips Won","hand":231,"chips":1810},{"series":"Chips Won","hand":239,"chips":2360},{"series":"Chips Won","hand":250,"chips":2090},{"series":"Chips Won","hand":261,"chips":1440},{"series":"Chips Won","hand":271,"chips":2030},{"series":"Chips Won","hand":282,"chips":1710},{"series":"Chips Won","hand":296,"chips":1680},{"series":"Chips Won","hand":307,"chips":1440},{"series":"Chips Won","hand":317,"chips":1080},{"series":"Chips Won","hand":331,"chips":760},{"series":"Chips Won","hand":344,"chips":680},{"series":"Chips Won","hand":358,"chips":540},{"series":"Chips Won","hand":371,"chips":270},{"series":"Chips Won","hand":385,"chips":-80},{"series":"Chips Won","hand":396,"chips":-320},{"series":"Chips Won","hand":409,"chips":-190},{"series":"Chips Won","hand":420,"chips":270},{"series":"Chips Won","hand":431,"chips":270},{"series":"Chips Won","hand":444,"chips":80},{"series":"Chips Won","hand":453,"chips":-270},{"series":"Chips Won","hand":463,"chips":-350},{"series":"Chips Won","hand":469,"chips":-540},{"series":"Chips Won","hand":477,"chips":-270},{"series":"Chips Won","hand":490,"chips":-80},{"series":"Chips Won","hand":499,"chips":-190},{"series":"Chips Won","hand":507,"chips":350},{"series":"Chips Won","hand":517,"chips":540},{"series":"Chips Won","hand":526,"chips":1000},{"series":"Chips Won","hand":539,"chips":620},{"series":"Chips Won","hand":547,"chips":1440},{"series":"Chips Won","hand":558,"chips":1270},{"series":"Chips Won","hand":563,"chips":1900},{"series":"Chips Won","hand":574,"chips":2030},{"series":"Chips Won","hand":588,"chips":1980},{"series":"Chips Won","hand":601,"chips":1980},{"series":"Chips Won","hand":612,"chips":2170},{"series":"Chips Won","hand":620,"chips":2900},{"series":"Chips Won","hand":628,"chips":2920},{"series":"Chips Won","hand":639,"chips":2710},{"series":"Chips Won","hand":647,"chips":2980},{"series":"Chips Won","hand":655,"chips":3170},{"series":"Chips Won","hand":663,"chips":3440},{"series":"Chips Won","hand":672,"chips":3200},{"series":"Chips Won","hand":682,"chips":3060},{"series":"Chips Won","hand":690,"chips":2980},{"series":"Chips Won","hand":699,"chips":3710},{"series":"Chips Won","hand":707,"chips":4410},{"series":"Chips Won","hand":715,"chips":4250},{"series":"Chips Won","hand":723,"chips":4520},{"series":"Chips Won","hand":734,"chips":4930},{"series":"Chips Won","hand":742,"chips":4930},{"series":"Chips Won","hand":747,"chips":4790},{"series":"Chips Won","hand":755,"chips":4820},{"series":"Chips Won","hand":761,"chips":4520},{"series":"Chips Won","hand":769,"chips":4600},{"series":"Chips Won","hand":777,"chips":4690},{"series":"Chips Won","hand":788,"chips":4410},{"series":"Chips Won","hand":796,"chips":4060},{"series":"Chips Won","hand":804,"chips":3710},{"series":"Chips Won","hand":815,"chips":3330},{"series":"Chips Won","hand":823,"chips":2980},{"series":"Chips Won","hand":831,"chips":3170},{"series":"Chips Won","hand":842,"chips":2980},{"series":"Chips Won","hand":850,"chips":2520},{"series":"Chips Won","hand":858,"chips":2710},{"series":"Chips Won","hand":869,"chips":2980},{"series":"Chips Won","hand":877,"chips":3330},{"series":"Chips Won","hand":885,"chips":3060},{"series":"Chips Won","hand":896,"chips":2710},{"series":"Chips Won","hand":904,"chips":2250},{"series":"Chips Won","hand":915,"chips":2250},{"series":"Chips Won","hand":923,"chips":2090},{"series":"Chips Won","hand":934,"chips":2090},{"series":"Chips Won","hand":939,"chips":2250},{"series":"Chips Won","hand":950,"chips":1980},{"series":"Chips Won","hand":955,"chips":2300},{"series":"Chips Won","hand":964,"chips":2630},{"series":"Chips Won","hand":969,"chips":2900},{"series":"Chips Won","hand":977,"chips":3170},{"series":"Chips Won","hand":985,"chips":3710},{"series":"Chips Won","hand":993,"chips":4140},{"series":"Chips Won","hand":1004,"chips":4280},{"series":"Chips Won","hand":1012,"chips":4250},{"series":"Chips Won","hand":1020,"chips":3790},{"series":"Chips Won","hand":1031,"chips":3250},{"series":"Chips Won","hand":1039,"chips":3440},{"series":"Chips Won","hand":1047,"chips":3520},{"series":"Chips Won","hand":1058,"chips":3170},{"series":"Chips Won","hand":1066,"chips":2980},{"series":"Chips Won","hand":1074,"chips":3440},{"series":"Chips Won","hand":1085,"chips":3060},{"series":"Chips Won","hand":1093,"chips":2900},{"series":"Chips Won","hand":1099,"chips":3250},{"series":"Chips Won","hand":1107,"chips":2900},{"series":"Chips Won","hand":1115,"chips":3030},{"series":"Chips Won","hand":1126,"chips":2790},{"series":"Chips Won","hand":1134,"chips":2900},{"series":"Chips Won","hand":1142,"chips":2710},{"series":"Chips Won","hand":1153,"chips":2650},{"series":"Chips Won","hand":1161,"chips":2360},{"series":"Chips Won","hand":1169,"chips":2440},{"series":"Chips Won","hand":1180,"chips":2630},{"series":"Chips Won","hand":1188,"chips":2710},{"series":"Chips Won","hand":1196,"chips":2760},{"series":"Chips Won","hand":1207,"chips":2900},{"series":"Chips Won","hand":1215,"chips":2710},{"series":"Chips Won","hand":1223,"chips":2840},{"series":"Chips Won","hand":1234,"chips":3060},{"series":"Chips Won","hand":1242,"chips":3330},{"series":"Chips Won","hand":1250,"chips":3600},{"series":"Chips Won","hand":1261,"chips":3710},{"series":"Chips Won","hand":1269,"chips":3980},{"series":"Chips Won","hand":1277,"chips":4200},{"series":"Chips Won","hand":1288,"chips":4280},{"series":"Chips Won","hand":1296,"chips":4330},{"series":"Chips Won","hand":1304,"chips":4250},{"series":"Chips Won","hand":1315,"chips":4330},{"series":"Chips Won","hand":1323,"chips":4280},{"series":"Chips Won","hand":1329,"chips":4690},{"series":"Chips Won","hand":1337,"chips":4790},{"series":"Chips Won","hand":1345,"chips":4870},{"series":"Chips Won","hand":1356,"chips":5630},{"series":"Chips Won","hand":1361,"chips":5230},{"series":"Chips Won","hand":1369,"chips":5060},{"series":"Chips Won","hand":1377,"chips":5090},{"series":"Chips Won","hand":1385,"chips":5150},{"series":"Chips Won","hand":1396,"chips":5280},{"series":"Chips Won","hand":1404,"chips":4520},{"series":"Chips Won","hand":1412,"chips":4870},{"series":"Chips Won","hand":1421,"chips":4960},{"series":"Chips Won","hand":1429,"chips":4870},{"series":"Chips Won","hand":1437,"chips":5150},{"series":"Chips Won","hand":1445,"chips":5330},{"series":"Chips Won","hand":1453,"chips":5060},{"series":"Chips Won","hand":1464,"chips":5330},{"series":"Chips Won","hand":1472,"chips":5360},{"series":"Chips Won","hand":1477,"chips":4790},{"series":"Chips Won","hand":1485,"chips":4960},{"series":"Chips Won","hand":1494,"chips":4660},{"series":"Chips Won","hand":1504,"chips":4280},{"series":"Chips Won","hand":1513,"chips":3790},{"series":"Chips Won","hand":1521,"chips":4410},{"series":"Chips Won","hand":1531,"chips":4470},{"series":"Chips Won","hand":1540,"chips":4330},{"series":"Chips Won","hand":1548,"chips":4140},{"series":"Chips Won","hand":1558,"chips":4410},{"series":"Chips Won","hand":1567,"chips":4790},{"series":"Chips Won","hand":1575,"chips":3710},{"series":"Chips Won","hand":1586,"chips":4060},{"series":"Chips Won","hand":1594,"chips":3870},{"series":"Chips Won","hand":1602,"chips":4140},{"series":"Chips Won","hand":1613,"chips":4410},{"series":"Chips Won","hand":1621,"chips":4550},{"series":"Chips Won","hand":1629,"chips":4520},{"series":"Chips Won","hand":1640,"chips":4550},{"series":"Chips Won","hand":1648,"chips":4470},{"series":"Chips Won","hand":1656,"chips":3980},{"series":"Chips Won","hand":1667,"chips":3600},{"series":"Chips Won","hand":1675,"chips":3060},{"series":"Chips Won","hand":1688,"chips":2760},{"series":"Chips Won","hand":1702,"chips":3250},{"series":"Chips Won","hand":1715,"chips":3060},{"series":"Chips Won","hand":1723,"chips":2900},{"series":"Chips Won","hand":1734,"chips":2440},{"series":"Chips Won","hand":1742,"chips":2900},{"series":"Chips Won","hand":1750,"chips":3250},{"series":"Chips Won","hand":1761,"chips":3440},{"series":"Chips Won","hand":1769,"chips":4330},{"series":"Chips Won","hand":1778,"chips":5230},{"series":"Chips Won","hand":1788,"chips":5880},{"series":"Chips Won","hand":1796,"chips":6230},{"series":"Chips Won","hand":1807,"chips":6420},{"series":"Chips Won","hand":1818,"chips":6630},{"series":"Chips Won","hand":1824,"chips":5960},{"series":"Chips Won","hand":1832,"chips":5770},{"series":"Chips Won","hand":1842,"chips":5420},{"series":"Chips Won","hand":1851,"chips":5280},{"series":"Chips Won","hand":1859,"chips":5360},{"series":"Chips Won","hand":1867,"chips":5060},{"series":"Chips Won","hand":1872,"chips":5690},{"series":"Chips Won","hand":1880,"chips":5960},{"series":"Chips Won","hand":1888,"chips":5770},{"series":"Chips Won","hand":1899,"chips":5500},{"series":"Chips Won","hand":1910,"chips":5500},{"series":"Chips Won","hand":1918,"chips":4960},{"series":"Chips Won","hand":1926,"chips":5230},{"series":"Chips Won","hand":1937,"chips":4550},{"series":"Chips Won","hand":1951,"chips":4790},{"series":"Chips Won","hand":1959,"chips":5230},{"series":"Chips Won","hand":1967,"chips":5500},{"series":"Chips Won","hand":1978,"chips":5230},{"series":"Chips Won","hand":1986,"chips":5150},{"series":"Chips Won","hand":1994,"chips":5550},{"series":"Chips Won","hand":2005,"chips":5060},{"series":"Chips Won","hand":2013,"chips":5150},{"series":"Chips Won","hand":2021,"chips":4820},{"series":"Chips Won","hand":2032,"chips":5230},{"series":"Chips Won","hand":2040,"chips":5500},{"series":"Chips Won","hand":2048,"chips":5230},{"series":"Chips Won","hand":2059,"chips":5420},{"series":"Chips Won","hand":2064,"chips":5060},{"series":"Chips Won","hand":2072,"chips":5880},{"series":"Chips Won","hand":2080,"chips":5770},{"series":"Chips Won","hand":2089,"chips":5960},{"series":"Chips Won","hand":2097,"chips":5420},{"series":"Chips Won","hand":2102,"chips":4960},{"series":"Chips Won","hand":2113,"chips":5690},{"series":"Chips Won","hand":2121,"chips":5770},{"series":"Chips Won","hand":2129,"chips":6040},{"series":"Chips Won","hand":2137,"chips":6500},{"series":"Chips Won","hand":2143,"chips":7120},{"series":"Chips Won","hand":2151,"chips":7500},{"series":"Chips Won","hand":2159,"chips":7910},{"series":"Chips Won","hand":2170,"chips":7580},{"series":"Chips Won","hand":2175,"chips":7040},{"series":"Chips Won","hand":2183,"chips":7180},{"series":"Chips Won","hand":2194,"chips":7120},{"series":"Chips Won","hand":2202,"chips":7310},{"series":"Chips Won","hand":2210,"chips":7580},{"series":"Chips Won","hand":2218,"chips":7390},{"series":"Chips Won","hand":2226,"chips":7720},{"series":"Chips Won","hand":2235,"chips":7310},{"series":"Chips Won","hand":2245,"chips":6720},{"series":"Chips Won","hand":2253,"chips":7100},{"series":"Chips Won","hand":2264,"chips":7500},{"series":"Chips Won","hand":2275,"chips":7230},{"series":"Chips Won","hand":2283,"chips":6960},{"series":"Chips Won","hand":2291,"chips":7040},{"series":"Chips Won","hand":2302,"chips":6690},{"series":"Chips Won","hand":2310,"chips":6770},{"series":"Chips Won","hand":2316,"chips":6910},{"series":"Chips Won","hand":2324,"chips":6500},{"series":"Chips Won","hand":2332,"chips":6310},{"series":"Chips Won","hand":2340,"chips":6150},{"series":"Chips Won","hand":2344,"chips":6300},{"series":"Chips Won","hand":2348,"chips":5450}
      ]},
      "mark": {"type": "line", "strokeWidth": 1.2, "interpolate": "linear"},
      "encoding": {
        "x": {
          "field": "hand", "type": "quantitative",
          "scale": {"domain": [1, 2348], "nice": false, "zero": false},
          "axis": {
            "title": "Hands Played",
            "values": [1, 149, 297, 446, 594, 743, 892, 1040, 1189, 1337, 1486, 1634, 1783, 1931, 2080, 2228, 2348],
            "tickCount": 30,
            "format": ",d",
            "grid": true,
            "tickSize": 3,
            "labelPadding": 3,
            "titlePadding": 5,
            "labelFlush": false,
            "labelBound": false,
            "labelOverlap": false
          }
        },
        "y": {
          "field": "chips", "type": "quantitative",
          "scale": {"domain": [-3000, 11000], "nice": false, "zero": false},
          "axis": {
            "orient": "right",
            "title": null,
            "values": [-3000, -2000, -1000, 0, 1000, 2000, 3000, 4000, 5000, 6000, 7000, 8000, 9000, 10000, 11000],
            "tickCount": 30,
            "format": ",d",
            "labelExpr": "replace(datum.label, '\u2212', '-')",
            "grid": true,
            "tickSize": 4,
            "labelPadding": 3,
            "labelBaseline": "middle",
            "labelOverlap": false,
            "labelBound": false
          }
        },
        "color": {
          "field": "series", "type": "nominal",
          "scale": {
            "domain": ["Chips Won", "Net Expected Chips Won", "Chips Won With Showdown", "Chips Won Without Showdown"],
            "range": ["#1f9c1f", "#b0b022", "#1c1ca6", "#a51c1c"]
          },
          "legend": {
            "title": null,
            "orient": "bottom",
            "direction": "horizontal",
            "offset": 6,
            "padding": 8,
            "strokeColor": "black",
            "cornerRadius": 0,
            "symbolType": "square",
            "symbolSize": 64,
            "symbolStrokeWidth": 1,
            "labelOffset": 5,
            "columnPadding": 29,
            "labelLimit": 300,
            "encode": {
              "symbols": {"update": {"fill": {"scale": "color", "field": "value"}, "stroke": {"value": "#000000"}, "strokeWidth": {"value": 1}}}
            }
          }
        }
      }
    },
    {
      "data": {"values": [{"w": 1}]},
      "mark": {"type": "text", "align": "right", "baseline": "middle", "font": "Roboto", "fontSize": 40, "fontWeight": "bold", "color": "#e8e8e8"},
      "encoding": {
        "x": {"datum": 1133, "type": "quantitative"},
        "y": {"datum": 9700, "type": "quantitative"},
        "text": {"value": "POKER"}
      }
    },
    {
      "data": {"values": [{"w": 1}]},
      "mark": {"type": "text", "align": "left", "baseline": "middle", "font": "Roboto", "fontSize": 40, "fontWeight": "normal", "color": "#efefef"},
      "encoding": {
        "x": {"datum": 1138, "type": "quantitative"},
        "y": {"datum": 9700, "type": "quantitative"},
        "text": {"value": "TRACKER"}
      }
    },
    {
      "data": {"values": [{"w": 1}]},
      "mark": {"type": "rule", "color": "black", "strokeWidth": 1},
      "encoding": {"y": {"datum": 0, "type": "quantitative"}}
    }
  ]
}
